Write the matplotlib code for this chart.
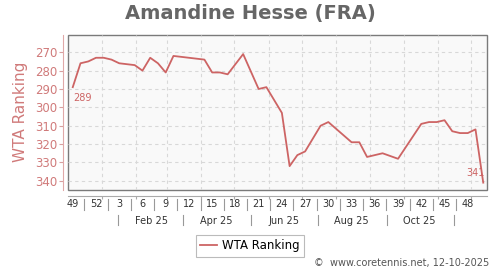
import matplotlib
matplotlib.use("Agg")
import matplotlib.pyplot as plt
import matplotlib.dates as mdates
import pandas as pd
import numpy as np

# ---- data ----
dates = ["2024-12-02", "2024-12-09", "2024-12-16", "2024-12-23", "2024-12-30",
         "2025-01-06", "2025-01-13", "2025-01-27", "2025-02-03", "2025-02-10",
         "2025-02-17", "2025-02-24", "2025-03-03", "2025-03-31", "2025-04-07",
         "2025-04-14", "2025-04-21", "2025-05-05", "2025-05-19", "2025-05-26",
         "2025-06-09", "2025-06-16", "2025-06-23", "2025-06-30", "2025-07-14",
         "2025-07-21", "2025-08-11", "2025-08-18", "2025-08-25", "2025-09-08",
         "2025-09-22", "2025-10-13", "2025-10-20", "2025-10-27", "2025-11-03",
         "2025-11-10", "2025-11-17", "2025-11-24", "2025-12-01", "2025-12-08"]
ranks = [289, 276, 275, 273, 273, 274, 276, 277, 280, 273,
         276, 281, 272, 274, 281, 281, 282, 271, 290, 289,
         303, 332, 326, 324, 310, 308, 319, 319, 327, 325,
         328, 309, 308, 308, 307, 313, 314, 314, 312, 341]
week_labels = ["49", "52", "3", "6", "9", "12", "15", "18", "21", "24",
               "27", "30", "33", "36", "39", "42", "45", "48"]
month_labels = ["Feb 25", "Apr 25", "Jun 25", "Aug 25", "Oct 25"]
yticks = [270, 280, 290, 300, 310, 320, 330, 340]
title = "Amandine Hesse (FRA)"
series_name = "WTA Ranking"
credit = "©  www.coretennis.net, 12-10-2025"

# ---- styles ----
RED = "#cd6464"
RED_TXT = "#d07a7a"
GRAY = "#7a7a7a"
SHIFT = 4  # axis date scale offset (days)

x = mdates.date2num(pd.to_datetime(dates))
x0 = x[0]

fig = plt.figure(figsize=(5, 2.7), dpi=100)
ax = fig.add_axes([68 / 500, 1 - 190 / 270, (487 - 68) / 500, (190 - 35) / 270])
ax.set_facecolor("#f9f9f9")
ax.patch.set_edgecolor(GRAY)
ax.patch.set_linewidth(1.0)

line, = ax.plot(x, ranks, color=RED, lw=1.3, label=series_name, zorder=3)

ax.set_xlim(x0 - 4.3, x0 + 374.4)
ax.set_ylim(345, 260.6)

# month grid positions
month_starts = pd.date_range("2025-01-01", "2025-12-01", freq="MS")
gx = mdates.date2num(month_starts) - SHIFT
ax.set_xticks(gx)
ax.set_xticklabels([])
ax.set_yticks(yticks)
ax.set_yticklabels([str(v) for v in yticks])
ax.grid(True, color="#d8d8d8", ls=(0, (3, 3)), lw=0.8)

for s in ["top", "right"]:
    ax.spines[s].set_visible(False)
ax.spines["left"].set_position(("outward", 3.4))
ax.spines["left"].set_color("#e0a8a8")
ax.spines["bottom"].set_position(("outward", 4))
ax.spines["bottom"].set_color("#aaaaaa")
ax.tick_params(axis="y", colors="#d8a0a0", labelcolor=RED_TXT, labelsize=8.5,
               length=3, pad=1.5)
ax.tick_params(axis="x", colors="#aaaaaa", length=2.5)

tr = ax.get_xaxis_transform()
# week labels
for k, lab in enumerate(week_labels):
    ax.text(x0 + 21 * k, -0.092, lab, transform=tr, ha="center", va="center",
            fontsize=7, color="#333333")
for k in range(len(week_labels) - 1):
    xs = x0 + 21 * k + 10.5
    ax.plot([xs, xs], [-0.058, -0.13], transform=tr, color="#999999", lw=0.8,
            clip_on=False)
# month labels
for k, lab in enumerate(month_labels):
    d = mdates.date2num(pd.Timestamp(2025, 2 + 2 * k, 15)) - SHIFT
    ax.text(d, -0.198, lab, transform=tr, ha="center", va="center",
            fontsize=7, color="#333333")
for k in range(len(month_labels) + 1):
    d = mdates.date2num(pd.Timestamp(2025, 1 + 2 * k, 16)) - SHIFT
    ax.plot([d, d], [-0.161, -0.226], transform=tr, color="#999999", lw=0.8,
            clip_on=False)

# first / last annotations
ax.annotate(str(ranks[0]), (x[0], ranks[0]), xytext=(0, -4.5),
            textcoords="offset points", ha="left", va="top", fontsize=7,
            color=RED)
ax.annotate(str(ranks[-1]), (x[-1], ranks[-1]), xytext=(1, 3),
            textcoords="offset points", ha="right", va="bottom", fontsize=7,
            color=RED)

fig.text(0.5, 1 - 13 / 270, title, ha="center", va="center", fontsize=14,
         fontweight="bold", color="#666666")
fig.text(21 / 500, 1 - 112 / 270, series_name, rotation=90, ha="center",
         va="center", fontsize=11, color=RED_TXT)
fig.text(489 / 500, 1 - 263 / 270, credit, ha="right", va="center",
         fontsize=7, color="#555555")

leg = fig.legend(handles=[line], loc="center", bbox_to_anchor=(0.5, 1 - 246 / 270),
                 fontsize=8.5, frameon=True, fancybox=False, handlelength=1.4,
                 borderpad=0.35, handletextpad=0.5, borderaxespad=0)
leg.get_frame().set_edgecolor("#aaaaaa")
leg.get_frame().set_linewidth(0.8)

fig.savefig("out.png", dpi=100)
